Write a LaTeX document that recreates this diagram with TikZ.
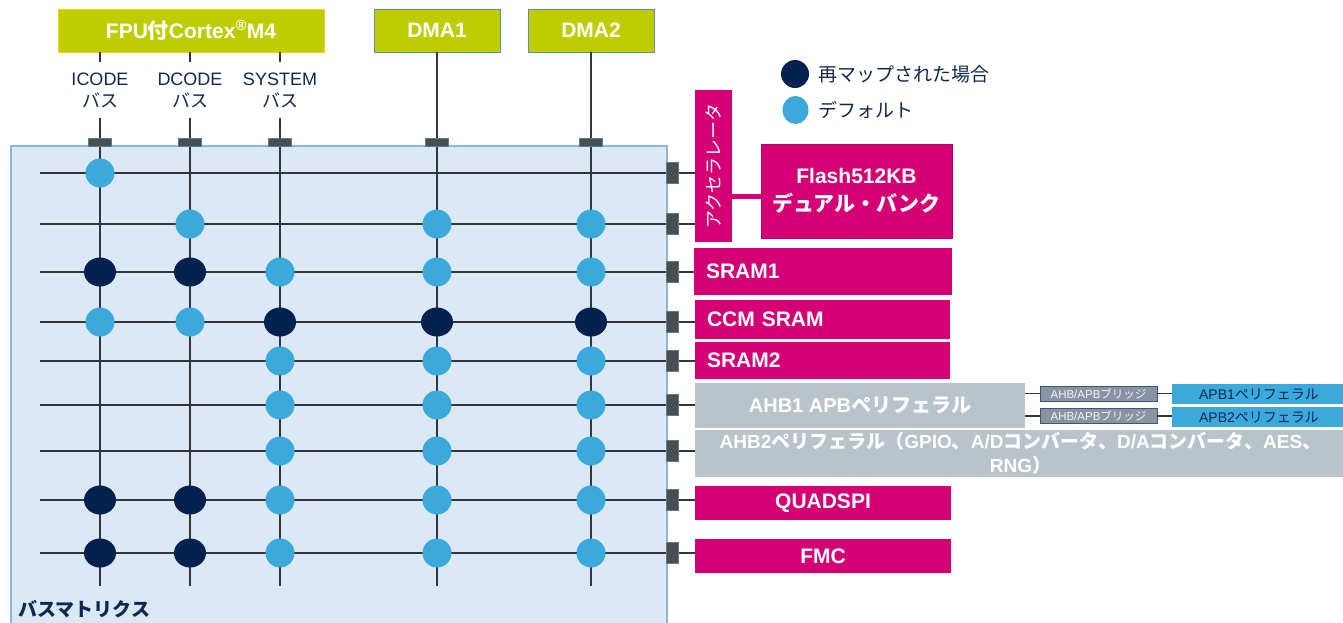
\documentclass[tikz,border=0pt]{standalone}
\usepackage{fontspec}
\setmainfont{Liberation Sans}
\newfontfamily\jpf{Noto Sans CJK JP}
\newcommand\J[1]{{\jpf #1}}
\usetikzlibrary{calc,shapes.geometric}
\definecolor{lime}{HTML}{BFCC00}
\definecolor{cpuedge}{HTML}{E6DC00}
\definecolor{dmaedge}{HTML}{5E8FAE}
\definecolor{mag}{HTML}{D40074}
\definecolor{magdark}{HTML}{B3005F}
\definecolor{gry}{HTML}{B9C3CA}
\definecolor{lblue}{HTML}{3BA9DC}
\definecolor{navy}{HTML}{03214F}
\definecolor{txtnavy}{HTML}{0E2850}
\definecolor{mtxfill}{HTML}{DBE8F5}
\definecolor{mtxedge}{HTML}{8DB7D5}
\definecolor{wirec}{HTML}{333638}
\definecolor{connc}{HTML}{4B4D4F}
\definecolor{connedge}{HTML}{4F7FA0}
\definecolor{brfill}{HTML}{8893A3}
\definecolor{bredge}{HTML}{3C5774}
\tikzset{
  wire/.style={draw=wirec, line width=1.3pt},
  srcbox/.style={fill=lime, line width=0.8pt, text=white, inner sep=0pt,
    font=\bfseries\fontsize{21}{25}\selectfont},
  buslbl/.style={align=center, text=txtnavy, inner sep=0pt,
    font=\fontsize{18}{22}\selectfont},
  mtx/.style={fill=mtxfill, draw=mtxedge, line width=2pt, inner sep=0pt},
  tconn/.style={fill=connc, draw=connedge, line width=0.5pt, minimum width=23pt, minimum height=8pt, inner sep=0pt},
  rconn/.style={fill=connc, draw=connedge, line width=0.5pt, minimum width=12pt, minimum height=21pt, inner sep=0pt},
  dflt/.style={ellipse, fill=lblue, minimum width=29pt, minimum height=29pt, inner sep=0pt},
  remap/.style={ellipse, fill=navy, minimum width=32pt, minimum height=29pt, inner sep=0pt},
  magbox/.style={fill=mag, text=white, inner sep=0pt, font=\bfseries\fontsize{21}{28}\selectfont},
  magleft/.style={fill=mag, text=white, inner xsep=12pt, inner ysep=0pt, align=left,
    font=\bfseries\fontsize{21}{25}\selectfont},
  gbox/.style={fill=gry, text=white, inner sep=0pt, align=center},
  brbox/.style={fill=brfill, draw=bredge, line width=0.8pt, text=white!92!gray, inner sep=0pt,
    minimum width=117pt, minimum height=15pt, font=\fontsize{11.5}{13}\selectfont},
  apbbox/.style={fill=lblue, text=txtnavy, inner sep=0pt, minimum width=174pt, minimum height=20pt,
    font=\fontsize{14}{16}\selectfont},
  legtxt/.style={anchor=west, text=txtnavy, inner sep=0pt, font=\fontsize{19}{22}\selectfont}
}
\begin{document}
\begin{tikzpicture}[x=1pt,y=-1pt]
\useasboundingbox (0,0) rectangle (1343,623);

% bus matrix
\node[mtx, anchor=north west, minimum width=656pt, minimum height=500pt] (bm) at (10,145) {};

% sources
\node[srcbox, draw=cpuedge, minimum width=266pt, minimum height=43pt] (cpu) at (191,30.5) {FPU\J{付}Cortex\textsuperscript{®}M4};
\node[srcbox, draw=dmaedge, minimum width=126pt, minimum height=43pt] (dma1) at (437,30.5) {DMA1};
\node[srcbox, draw=dmaedge, minimum width=126pt, minimum height=43pt] (dma2) at (591,30.5) {DMA2};

% bus labels
\node[buslbl] (lic) at (100,90) {ICODE\\\J{バス}};
\node[buslbl] (ldc) at (190,90) {DCODE\\\J{バス}};
\node[buslbl] (lsy) at (280,90) {SYSTEM\\\J{バス}};

% row and bottom coordinates
\coordinate (r1) at (40,173);
\coordinate (r2) at (40,224);
\coordinate (r3) at (40,272);
\coordinate (r4) at (40,322);
\coordinate (r5) at (40,361);
\coordinate (r6) at (40,405);
\coordinate (r7) at (40,451);
\coordinate (r8) at (40,500);
\coordinate (r9) at (40,553);
\coordinate (bot) at (0,586);

% top connectors (positions)
\coordinate (tc1) at (100,142);
\coordinate (tc2) at (190,142);
\coordinate (tc3) at (280,142);
\coordinate (tc4) at (437,142);
\coordinate (tc5) at (591,142);

% targets
\node[fill=mag, minimum width=37pt, minimum height=152pt, inner sep=0pt] (acc) at (713.5,166) {};
\node[rotate=90, text=white, inner sep=0pt, font=\fontsize{18}{20}\selectfont] (acctxt) at (acc.center) {\J{アクセラレータ}};
\node[magbox, draw=magdark, line width=1pt, minimum width=191pt, minimum height=94pt, align=center] (flash) at (856.5,191) {Flash512KB\\\J{デュアル・バンク}};
\node[magleft, text width=234pt, minimum height=47pt] (sram1) at (823,271.5) {SRAM1};
\node[magleft, text width=231pt, minimum height=39pt] (ccm) at (822.5,319.5) {CCM SRAM};
\node[magleft, text width=231pt, minimum height=37pt] (sram2) at (822.5,360.5) {SRAM2};
\node[gbox, minimum width=330pt, minimum height=45pt, font=\bfseries\fontsize{20}{24}\selectfont] (ahb1) at (860,405.5) {AHB1 APB\J{ペリフェラル}};
\node[brbox] (br1) at (1098.5,393.5) {AHB/APB\J{ブリッジ}};
\node[brbox] (br2) at (1098.5,416) {AHB/APB\J{ブリッジ}};
\node[apbbox] (apb1) at (1259,394) {APB1\J{ペリフェラル}};
\node[apbbox] (apb2) at (1259,417) {APB2\J{ペリフェラル}};
\node[gbox, minimum width=651pt, minimum height=47pt, font=\bfseries\fontsize{19}{24}\selectfont] (ahb2) at (1020.5,453.5) {AHB2\J{ペリフェラル（}GPIO\J{、}A/D\J{コンバータ、}D/A\J{コンバータ、}AES\J{、}\\RNG\J{）}};
\node[magbox, minimum width=256pt, minimum height=34pt] (quad) at (823,503) {QUADSPI};
\node[magbox, minimum width=256pt, minimum height=34pt] (fmc) at (823,556) {FMC};

% accelerator to flash link
\coordinate (fy) at (0,196);
\draw[draw=mag, line width=5pt] (acc.east |- fy) -- (flash.west |- fy);

% source wires
\draw[wire] (cpu.south -| lic) -- ++(0,10);
\draw[wire] (cpu.south -| ldc) -- ++(0,10);
\draw[wire] (cpu.south -| lsy) -- ++(0,10);
\draw[wire] (tc1) -- ++(0,-24);
\draw[wire] (tc2) -- ++(0,-24);
\draw[wire] (tc3) -- ++(0,-24);
\draw[wire] (dma1.south) -- (tc4);
\draw[wire] (dma2.south) -- (tc5);

% vertical bus lines
\foreach \c in {tc1,tc2,tc3,tc4,tc5} \draw[wire] (\c) -- (\c |- bot);

% horizontal lines
\draw[wire] (r1) -- (r1 -| acc.west);
\draw[wire] (r2) -- (r2 -| acc.west);
\draw[wire] (r3) -- (r3 -| sram1.west);
\draw[wire] (r4) -- (r4 -| ccm.west);
\draw[wire] (r5) -- (r5 -| sram2.west);
\draw[wire] (r6) -- (r6 -| ahb1.west);
\draw[wire] (r7) -- (r7 -| ahb2.west);
\draw[wire] (r8) -- (r8 -| quad.west);
\draw[wire] (r9) -- (r9 -| fmc.west);

% bridge wires
\draw[wire] (br1.west -| ahb1.east) -- (br1.west);
\draw[wire] (br1.east) -- (br1.east -| apb1.west);
\draw[wire] (br2.west -| ahb1.east) -- (br2.west);
\draw[wire] (br2.east) -- (br2.east -| apb2.west);

% top connector blocks
\foreach \c [count=\i] in {tc1,tc2,tc3,tc4,tc5} \node[tconn] (tcb\i) at (\c) {};

% right connector blocks
\foreach \r [count=\i] in {r1,r2,r3,r4,r5,r6,r7,r8,r9} \node[rconn] (rc\i) at (672,0 |- \r) {};

% dots
\foreach \c/\r/\s in {tc1/r1/dflt,
  tc2/r2/dflt, tc4/r2/dflt, tc5/r2/dflt,
  tc1/r3/remap, tc2/r3/remap, tc3/r3/dflt, tc4/r3/dflt, tc5/r3/dflt,
  tc1/r4/dflt, tc2/r4/dflt, tc3/r4/remap, tc4/r4/remap, tc5/r4/remap,
  tc3/r5/dflt, tc4/r5/dflt, tc5/r5/dflt,
  tc3/r6/dflt, tc4/r6/dflt, tc5/r6/dflt,
  tc3/r7/dflt, tc4/r7/dflt, tc5/r7/dflt,
  tc1/r8/remap, tc2/r8/remap, tc3/r8/dflt, tc4/r8/dflt, tc5/r8/dflt,
  tc1/r9/remap, tc2/r9/remap, tc3/r9/dflt, tc4/r9/dflt, tc5/r9/dflt}
  \node[\s] at (\c |- \r) {};

% legend
\node[remap, minimum width=28pt, minimum height=28pt] (lg1) at (795,74) {};
\node[dflt, minimum width=26pt, minimum height=28pt] (lg2) at (795.5,110) {};
\node[legtxt] (lt1) at (818,74) {\J{再マップされた場合}};
\node[legtxt] (lt2) at (818,110) {\J{デフォルト}};

% bus matrix label
\node[anchor=west, text=txtnavy, inner sep=0pt, font=\bfseries\fontsize{19}{22}\selectfont] (bmlbl) at (18,609) {\J{バスマトリクス}};
\end{tikzpicture}
\end{document}
